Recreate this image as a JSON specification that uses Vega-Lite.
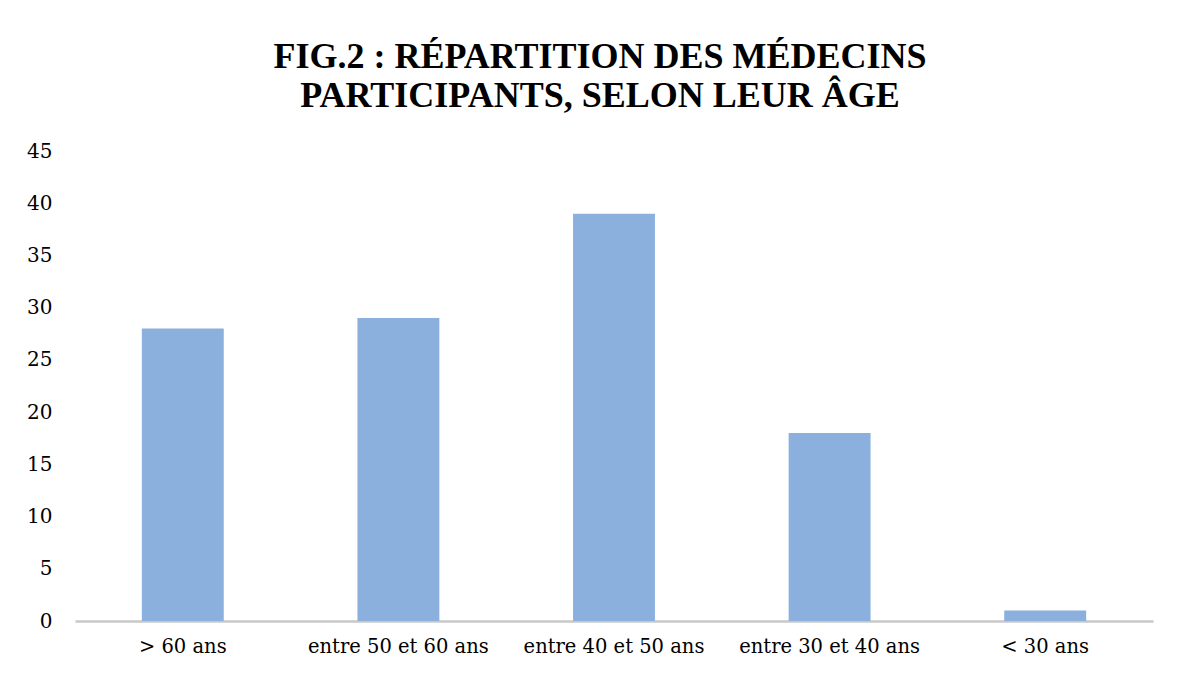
{
  "$schema": "https://vega.github.io/schema/vega-lite/v6.json",
  "width": 1078,
  "height": 470,
  "autosize": {"type": "none"},
  "padding": {"left": 75, "top": 151, "right": 28, "bottom": 53},
  "background": "white",
  "title": {
    "text": ["FIG.2 : RÉPARTITION DES MÉDECINS", "PARTICIPANTS, SELON LEUR ÂGE"],
    "font": "Liberation Serif",
    "fontWeight": "bold",
    "fontSize": 36,
    "lineHeight": 39,
    "color": "#000000",
    "anchor": "middle",
    "frame": "group",
    "dx": -14,
    "offset": 26
  },
  "data": {
    "values": [
      {"age": "> 60 ans", "n": 28},
      {"age": "entre 50 et 60 ans", "n": 29},
      {"age": "entre 40 et 50 ans", "n": 39},
      {"age": "entre 30 et 40 ans", "n": 18},
      {"age": "< 30 ans", "n": 1}
    ]
  },
  "mark": {"type": "bar", "fill": "#8cb0de"},
  "encoding": {
    "x": {
      "field": "age",
      "type": "nominal",
      "sort": null,
      "scale": {"paddingInner": 0.62, "paddingOuter": 0.31},
      "axis": {
        "title": null,
        "labelAngle": 0,
        "labelLimit": 400,
        "ticks": false,
        "domainColor": "#c8c8c8",
        "domainWidth": 2.5,
        "labelFont": "DejaVu Serif",
        "labelFontSize": 19.5,
        "labelColor": "#000000",
        "labelPadding": 16
      }
    },
    "y": {
      "field": "n",
      "type": "quantitative",
      "scale": {"domain": [0, 45], "nice": false},
      "axis": {
        "title": null,
        "values": [0, 5, 10, 15, 20, 25, 30, 35, 40, 45],
        "grid": false,
        "domain": false,
        "ticks": false,
        "labelFont": "DejaVu Serif",
        "labelFontSize": 20,
        "labelColor": "#000000",
        "labelPadding": 23
      }
    }
  },
  "config": {"view": {"stroke": null}}
}
